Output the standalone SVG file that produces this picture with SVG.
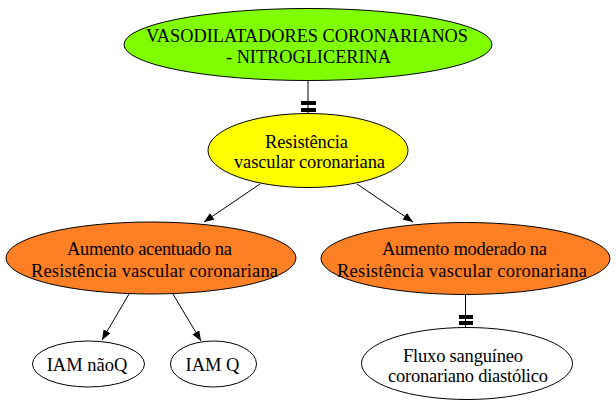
<svg xmlns="http://www.w3.org/2000/svg" width="616" height="408" viewBox="0 0 616 408">
<style>
text{font-family:"Liberation Serif","Times New Roman",serif;font-size:18.5px;fill:#000;text-anchor:middle}
.n{stroke:#000;stroke-width:1}
.e{stroke:#000;stroke-width:1;fill:none}
.t{fill:#000;stroke:none}
</style>
<defs>
<marker id="ah" markerWidth="10" markerHeight="8" refX="10" refY="4" orient="auto" markerUnits="userSpaceOnUse">
<path d="M0,0 L10,4 L0,8 Z" fill="#000"/>
</marker>
</defs>
<rect width="616" height="408" fill="#fff"/>
<g id="connectors">
<line class="e" x1="308" y1="81" x2="308" y2="113"/>
<rect class="t" x="301" y="101" width="15" height="4"/>
<rect class="t" x="301" y="108" width="15" height="4"/>
<line class="e" x1="260" y1="184" x2="204" y2="222" marker-end="url(#ah)"/>
<line class="e" x1="357" y1="184" x2="413" y2="222" marker-end="url(#ah)"/>
<line class="e" x1="129" y1="294" x2="102" y2="340" marker-end="url(#ah)"/>
<line class="e" x1="173" y1="294" x2="201" y2="341" marker-end="url(#ah)"/>
<line class="e" x1="465.5" y1="295" x2="465.5" y2="327"/>
<rect class="t" x="459" y="315" width="14" height="4"/>
<rect class="t" x="459" y="321" width="14" height="4"/>
</g>
<g id="vasodilatadores">
<ellipse class="n" cx="308" cy="44.5" rx="184" ry="36" fill="#7fff00"/>
<text x="307" y="42" textLength="322" lengthAdjust="spacingAndGlyphs">VASODILATADORES CORONARIANOS</text>
<text x="308.5" y="63" textLength="165" lengthAdjust="spacingAndGlyphs">- NITROGLICERINA</text>
</g>
<g id="resistencia">
<ellipse class="n" cx="308" cy="150.5" rx="100" ry="37" fill="#ffff00"/>
<text x="306.5" y="148" textLength="83" lengthAdjust="spacing">Resistência</text>
<text x="309.5" y="168" textLength="151" lengthAdjust="spacing">vascular coronariana</text>
</g>
<g id="aumento_acentuado">
<ellipse class="n" cx="151" cy="258" rx="145" ry="36" fill="#ff7f24"/>
<text x="149.5" y="255" textLength="165" lengthAdjust="spacing">Aumento acentuado na</text>
<text x="154.5" y="277" textLength="247" lengthAdjust="spacing">Resistência vascular coronariana</text>
</g>
<g id="aumento_moderado">
<ellipse class="n" cx="465.5" cy="258.5" rx="144.5" ry="36" fill="#ff7f24"/>
<text x="464.5" y="255" textLength="165" lengthAdjust="spacing">Aumento moderado na</text>
<text x="462" y="277" textLength="250" lengthAdjust="spacing">Resistência vascular coronariana</text>
</g>
<g id="iam_naoq">
<ellipse class="n" cx="88.5" cy="364" rx="56" ry="23" fill="#fff"/>
<text x="87" y="371">IAM nãoQ</text>
</g>
<g id="iam_q">
<ellipse class="n" cx="213.5" cy="364" rx="43" ry="23" fill="#fff"/>
<text x="212.5" y="371">IAM Q</text>
</g>
<g id="fluxo">
<ellipse class="n" cx="467" cy="363.5" rx="105.5" ry="36" fill="#fff"/>
<text x="463" y="362" textLength="120" lengthAdjust="spacing">Fluxo sanguíneo</text>
<text x="468" y="382" textLength="160" lengthAdjust="spacing">coronariano diastólico</text>
</g>
</svg>
